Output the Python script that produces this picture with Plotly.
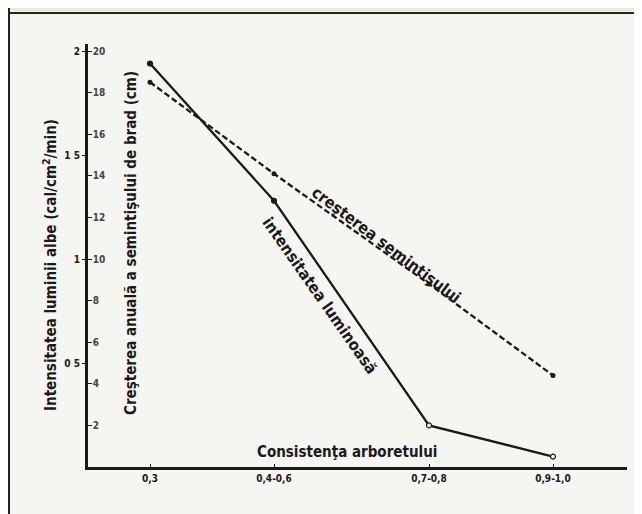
import plotly.graph_objects as go

# ---- data ----
consistenta_x = [0.3, 0.5, 0.75, 0.95]          # midpoints of the density classes
consistenta_labels = ["0,3", "0,4-0,6", "0,7-0,8", "0,9-1,0"]
intensitate = [1.94, 1.28, 0.20, 0.05]           # cal/cm2/min
crestere = [18.5, 14.1, 8.8, 4.4]                # cm
growth_ticks = [2, 4, 6, 8, 10, 12, 14, 16, 18, 20]
light_ticks = [0.5, 1, 1.5, 2]
light_ticklabels = ["0 5", "1", "1 5", "2"]

W, H = 642, 514
OFF = 8                      # page body margin of the browser
# plot box in picture pixels
X0, X1 = 88, 627             # left axis, right end of x axis
Y0 = 467                     # x axis
Y20 = 51                     # level of value 20
YT = 44                      # top of left axis line
L, R = X0 - OFF, W - (X1 - OFF)
T, B = YT - OFF, H - (Y0 - OFF)
PW, PH = X1 - X0, Y0 - YT

XSCALE = 620.0               # pixels per unit of consistency
xmin = 0.3 - (150 - X0) / XSCALE
xmax = xmin + PW / XSCALE
ysc = (Y0 - Y20) / 20.0      # pixels per cm
ytop = PH / ysc

def px(xp):
    return (xp - X0) / PW

def py(yp):
    return (Y0 - yp) / PH

def dx(xp):
    return xmin + (xp - X0) / XSCALE

def dy(yp):
    return (Y0 - yp) / ysc

FONT = "Liberation Sans Narrow, DejaVu Sans Condensed, Arial Narrow, sans-serif"
INK = "#1a1a1a"
BG = "#f5f5f2"

fig = go.Figure()
fig.add_trace(go.Scatter(
    x=consistenta_x, y=crestere, mode="lines+markers", yaxis="y",
    line=dict(color=INK, width=2.3, dash="6px,3px"),
    marker=dict(size=5, color=INK), showlegend=False))
fig.add_trace(go.Scatter(
    x=consistenta_x, y=intensitate, mode="lines+markers", yaxis="y2",
    line=dict(color=INK, width=2.3),
    marker=dict(size=5, color=[INK, INK, BG, BG],
                line=dict(color=INK, width=1.2)),
    showlegend=False))

fig.update_layout(
    width=W, height=H,
    margin=dict(l=L, r=R, t=T, b=B),
    paper_bgcolor=BG, plot_bgcolor="rgba(0,0,0,0)",
    font=dict(family=FONT, color=INK),
    xaxis=dict(range=[xmin, xmax], showgrid=False, zeroline=False,
               showline=True, linecolor=INK, linewidth=2.5,
               tickvals=consistenta_x, ticktext=consistenta_labels,
               ticks="inside", ticklen=3, tickcolor=INK,
               tickfont=dict(size=10, family=FONT, weight="bold")),
    yaxis=dict(range=[0, ytop], showgrid=False, zeroline=False,
               showline=True, linecolor=INK, linewidth=2.5,
               tickvals=growth_ticks, ticks="inside", ticklen=4,
               tickcolor=INK, ticklabelposition="inside",
               tickfont=dict(size=10, family=FONT, weight="bold")),
    yaxis2=dict(range=[0, ytop / 10], overlaying="y", side="left",
                showgrid=False, zeroline=False, showline=False,
                tickvals=light_ticks, ticktext=light_ticklabels,
                ticks="outside", ticklen=5, tickcolor=INK,
                tickfont=dict(size=10, family=FONT, weight="bold")),
)

annots = [
    dict(text="Intensitatea luminii albe (cal/cm<sup>2</sup>/min)",
         x=px(38), y=py(265), xref="paper", yref="paper", textangle=-90,
         font=dict(size=15, weight="bold")),
    dict(text="Creşterea anuală a semintişului de brad (cm)",
         x=px(120), y=py(243), xref="paper", yref="paper", textangle=-90,
         font=dict(size=15, weight="bold")),
    dict(text="Consistenţa arboretului", x=dx(347), y=dy(452),
         xref="x", yref="y", font=dict(size=15, weight="bold")),
    dict(text="creşterea semintişului", x=dx(386), y=dy(244),
         xref="x", yref="y", textangle=37, font=dict(size=16, weight="bold")),
    dict(text="intensitatea luminoasă", x=dx(320), y=dy(295),
         xref="x", yref="y", textangle=55, font=dict(size=16, weight="bold")),
]
for a in annots:
    a.setdefault("showarrow", False)
    a["font"].setdefault("family", FONT)
    a["font"].setdefault("color", INK)
    fig.add_annotation(**a)

# scanned page frame
fig.add_shape(type="rect", xref="paper", yref="paper",
              x0=px(0), x1=px(W + OFF), y0=py(11), y1=py(-OFF),
              fillcolor="#eee6d6", line=dict(width=0), layer="below")
fig.add_shape(type="line", xref="paper", yref="paper",
              x0=px(0), x1=px(W + OFF), y0=py(13), y1=py(13),
              line=dict(color="#222", width=2))
fig.add_shape(type="line", xref="paper", yref="paper",
              x0=px(9), x1=px(9), y0=py(0), y1=py(H + OFF),
              line=dict(color="#222", width=2))

fig.write_html("out.html")
